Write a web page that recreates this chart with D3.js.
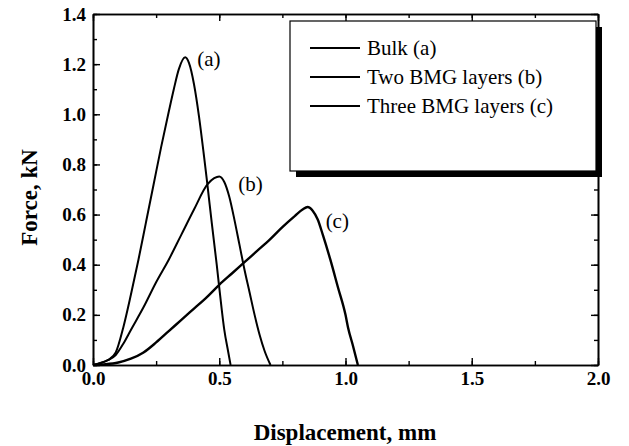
<!DOCTYPE html>
<html>
<head>
<meta charset="utf-8">
<script src="https://cdn.jsdelivr.net/npm/d3@7"></script>
<style>
body { margin:0; background:#fff; }
text { font-family:"Liberation Serif","Times New Roman",serif; }
.tick text { font-weight:bold; font-size:19px; }
</style>
</head>
<body>
<svg id="chart"></svg>
<script>
// displacement (mm) / force (kN)
var bulkX  = [0,0.03,0.06,0.09,0.12,0.15,0.18,0.21,0.24,0.27,0.30,0.32,0.34,0.365,0.38,0.40,0.42,0.44,0.453,0.47,0.49,0.51,0.52,0.535,0.545];
var bulkY  = [0,0.008,0.02,0.05,0.15,0.28,0.42,0.57,0.72,0.87,1.01,1.10,1.18,1.227,1.205,1.12,0.99,0.83,0.72,0.57,0.40,0.22,0.14,0.055,0];
var twoX   = [0,0.03,0.06,0.09,0.12,0.15,0.20,0.25,0.30,0.35,0.40,0.453,0.48,0.50,0.52,0.54,0.56,0.58,0.60,0.62,0.64,0.66,0.68,0.703];
var twoY   = [0,0.008,0.02,0.04,0.085,0.14,0.23,0.33,0.42,0.52,0.62,0.72,0.745,0.752,0.73,0.67,0.58,0.48,0.38,0.29,0.20,0.12,0.055,0];
var threeX = [0,0.05,0.10,0.15,0.20,0.25,0.30,0.35,0.40,0.45,0.50,0.55,0.60,0.65,0.70,0.75,0.80,0.83,0.85,0.87,0.89,0.91,0.94,0.97,1.00,1.01,1.03,1.049];
var threeY = [0,0.003,0.01,0.025,0.05,0.09,0.135,0.18,0.225,0.27,0.32,0.365,0.41,0.455,0.50,0.55,0.595,0.62,0.63,0.615,0.58,0.52,0.42,0.31,0.20,0.15,0.075,0];

var seriesNames = ["Bulk (a)","Two BMG layers (b)","Three BMG layers (c)"];
var curveTags = ["(a)","(b)","(c)"];
var xTicks = [0,0.5,1.0,1.5,2.0];
var yTicks = [0,0.2,0.4,0.6,0.8,1.0,1.2,1.4];

var screen = {width:629, height:446};
var margins = {top:14, bottom:81, left:93, right:31};
var graph = {
    width:screen.width-margins.left-margins.right,
    height:screen.height-margins.top-margins.bottom
};

var svg = d3.select("#chart")
    .attr("width", screen.width)
    .attr("height", screen.height);

var x = d3.scaleLinear().domain([0,2]).range([0,graph.width]);
var y = d3.scaleLinear().domain([0,1.4]).range([graph.height,0]);

var g = svg.append("g")
    .attr("transform","translate("+margins.left+","+margins.top+")");

var pairs = function(xs, ys) { return xs.map(function(v,i){ return [v, ys[i]]; }); };
var series = [pairs(bulkX,bulkY), pairs(twoX,twoY), pairs(threeX,threeY)];
var widths = [2,2,2.4];

var line = d3.line()
    .x(function(d){ return x(d[0]); })
    .y(function(d){ return y(d[1]); })
    .curve(d3.curveMonotoneX);

g.selectAll("path.curve")
    .data(series)
    .enter()
    .append("path")
    .classed("curve", true)
    .attr("d", line)
    .attr("fill","none")
    .attr("stroke","#000")
    .attr("stroke-width", function(d,i){ return widths[i]; })
    .attr("stroke-linejoin","round");

// curve tags next to each peak (pixel offsets)
var tagOffsets = [[12,1],[19,7],[18,14]];
series.forEach(function(s,i)
{
    var peak = d3.greatest(s, function(d){ return d[1]; });
    g.append("text")
        .attr("x", x(peak[0])+tagOffsets[i][0])
        .attr("y", y(peak[1])+tagOffsets[i][1])
        .attr("dy","0.35em")
        .attr("font-size","21px")
        .text(curveTags[i]);
});

// axes with inward ticks on all four sides
var minorX = d3.range(0,2.0001,0.25);
var minorY = d3.range(0,1.4001,0.1);

var addAxis = function(axis, tr, ticks, size, labels)
{
    var a = g.append("g").attr("transform", tr)
        .call(axis.tickValues(ticks).tickSizeInner(size).tickSizeOuter(0)
            .tickFormat(labels ? d3.format(".1f") : ""));
    a.select(".domain").attr("stroke-width",1.6);
    a.selectAll(".tick line").attr("stroke-width",1.4);
    return a;
};

addAxis(d3.axisBottom(x), "translate(0,"+graph.height+")", minorX, -4, false);
var xa = addAxis(d3.axisBottom(x), "translate(0,"+graph.height+")", xTicks, -7, true);
xa.selectAll(".tick text").attr("y",7).attr("dy","0.71em");
addAxis(d3.axisTop(x), "translate(0,0)", minorX, -4, false);
addAxis(d3.axisTop(x), "translate(0,0)", xTicks, -7, false);

addAxis(d3.axisLeft(y), "translate(0,0)", minorY, -4, false);
var ya = addAxis(d3.axisLeft(y), "translate(0,0)", yTicks, -7, true);
ya.selectAll(".tick text").attr("x",-7);
addAxis(d3.axisRight(y), "translate("+graph.width+",0)", minorY, -4, false);
addAxis(d3.axisRight(y), "translate("+graph.width+",0)", yTicks, -7, false);

svg.append("text")
    .attr("x", 345)
    .attr("y", 440)
    .attr("text-anchor","middle")
    .attr("font-weight","bold")
    .attr("font-size","23px")
    .text("Displacement, mm");

svg.append("text")
    .attr("transform","translate(37,"+(margins.top+graph.height/2+8)+") rotate(-90)")
    .attr("text-anchor","middle")
    .attr("font-weight","bold")
    .attr("font-size","23px")
    .text("Force, kN");

// legend with drop shadow
var legend = svg.append("g").attr("transform","translate(290,21)");
legend.append("rect")
    .attr("x",6).attr("y",6).attr("width",306).attr("height",150)
    .attr("fill","#000");
legend.append("rect")
    .attr("width",306).attr("height",150)
    .attr("fill","#fff").attr("stroke","#000").attr("stroke-width",1.2);

var rows = legend.selectAll("g.row")
    .data(seriesNames)
    .enter()
    .append("g")
    .classed("row", true)
    .attr("transform", function(d,i){ return "translate(0,"+(27+i*29)+")"; });
rows.append("line")
    .attr("x1",20).attr("x2",70)
    .attr("stroke","#000")
    .attr("stroke-width", function(d,i){ return i==0 ? 2.2 : 1.8; });
rows.append("text")
    .attr("x",77)
    .attr("dy","0.35em")
    .attr("font-size","21px")
    .text(function(d){ return d; });
</script>
</body>
</html>
